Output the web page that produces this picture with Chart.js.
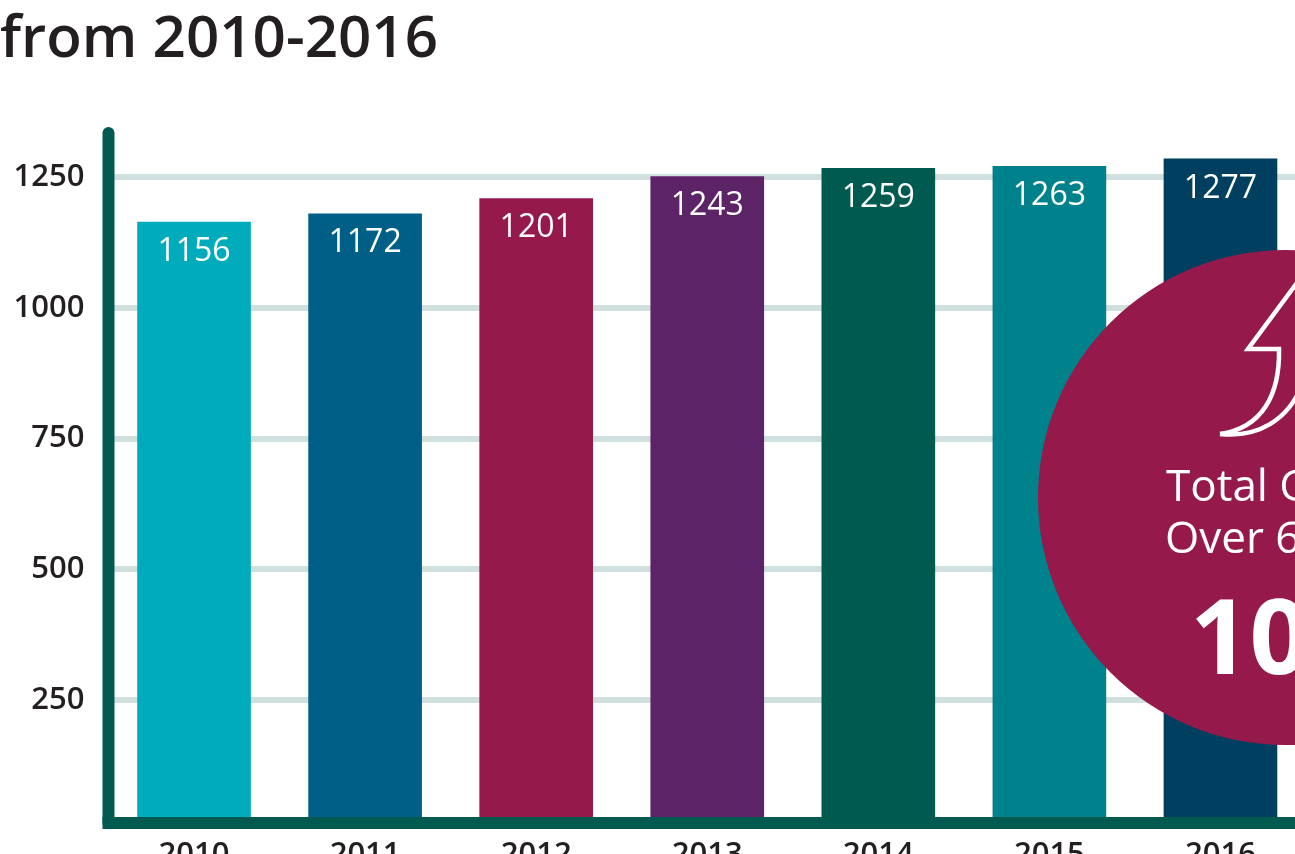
<!DOCTYPE html>
<html lang="en">
<head>
  <meta charset="UTF-8" />
  <title>from 2010-2016</title>
  <script src="https://cdn.jsdelivr.net/npm/chart.js"></script>
  <style>
    html, body { margin: 0; width: 1295px; height: 854px; overflow: hidden; background: #fff; }
    h1 { position: absolute; left: 0; top: -5px; margin: 0; font: 600 58.3px "Open Sans", sans-serif; color: #231f20; white-space: nowrap; }
    canvas { position: absolute; left: 0; top: 0; }
  </style>
</head>
<body>

<h1>from 2010-2016</h1>
<canvas id="growthChart" width="1306" height="900"></canvas>

<script>
  const years = ['2010', '2011', '2012', '2013', '2014', '2015', '2016'];
  const counts = [1156, 1172, 1201, 1243, 1259, 1263, 1277];
  const barColors = ['#00abbb', '#005f86', '#95194b', '#5c2466', '#005a50', '#00828c', '#003f5f'];
  const yTicks = [250, 500, 750, 1000, 1250];
  const calloutLines = ['Total G', 'Over 6'];
  const calloutBig = '10';

  const fontFamily = '"Open Sans", sans-serif';

  // value labels, axis lines and the callout all sit on top of the bars
  const overlay = {
    id: 'overlay',
    afterDatasetsDraw(chart) {
      const { ctx, chartArea } = chart;
      ctx.save();

      ctx.fillStyle = '#fff';
      ctx.font = '400 32px ' + fontFamily;
      ctx.textAlign = 'center';
      ctx.textBaseline = 'middle';
      chart.getDatasetMeta(0).data.forEach((bar, i) => {
        ctx.fillText(counts[i], bar.x, bar.y + 29.5);
      });

      ctx.strokeStyle = '#005a50';
      ctx.lineWidth = 12;
      ctx.lineCap = 'round';
      ctx.beginPath();
      ctx.moveTo(chartArea.left, chartArea.top + 6);
      ctx.lineTo(chartArea.left, chartArea.bottom);
      ctx.stroke();
      ctx.lineCap = 'butt';
      ctx.beginPath();
      ctx.moveTo(chartArea.left - 6, chartArea.bottom);
      ctx.lineTo(chart.width, chartArea.bottom);
      ctx.stroke();

      // callout circle, runs off the right edge of the page
      ctx.fillStyle = '#95194a';
      ctx.beginPath();
      ctx.arc(1285.5, 497.5, 247.5, 0, Math.PI * 2);
      ctx.fill();

      ctx.strokeStyle = '#fff';
      ctx.lineWidth = 4.5;
      ctx.lineJoin = 'miter';
      ctx.beginPath();
      ctx.moveTo(1302, 276);
      ctx.lineTo(1248, 349);
      ctx.lineTo(1279, 349);
      ctx.bezierCurveTo(1280, 395, 1262, 428, 1220, 434);
      ctx.stroke();
      ctx.beginPath();
      ctx.moveTo(1220, 434);
      ctx.bezierCurveTo(1258, 438, 1288, 420, 1302, 385);
      ctx.stroke();

      ctx.fillStyle = '#fff';
      ctx.textAlign = 'left';
      ctx.textBaseline = 'alphabetic';
      ctx.font = '400 44px ' + fontFamily;
      ctx.fillText(calloutLines[0], 1166, 501);
      ctx.fillText(calloutLines[1], 1165, 553);
      ctx.font = '700 104px ' + fontFamily;
      ctx.fillText(calloutBig, 1190, 674);

      ctx.restore();
    }
  };

  new Chart(document.getElementById('growthChart'), {
    type: 'bar',
    data: {
      labels: years,
      datasets: [{
        data: counts,
        backgroundColor: barColors,
        yAxisID: 'yBars',
        barThickness: 113,
        borderWidth: 0
      }]
    },
    options: {
      responsive: false,
      animation: false,
      layout: { padding: { top: 127 } },
      plugins: { legend: { display: false }, tooltip: { enabled: false } },
      scales: {
        x: {
          afterFit: scale => { scale.height = 77; },
          grid: { display: false },
          border: { display: false },
          ticks: { color: '#231f20', font: { family: fontFamily, size: 31, weight: '600' }, padding: 6, maxRotation: 0 }
        },
        // ruled axis
        y: {
          min: 15,
          max: 1346,
          afterBuildTicks: scale => { scale.ticks = yTicks.map(value => ({ value })); },
          afterFit: scale => { scale.width = 108.5; },
          grid: { color: '#d0e0de', lineWidth: 6, drawTicks: false },
          border: { display: false },
          ticks: { color: '#231f20', font: { family: fontFamily, size: 31, weight: '600' }, padding: 24, callback: value => String(value) }
        },
        // the bars sit a few pixels above the ruled scale in the original
        yBars: {
          display: false,
          min: 7,
          max: 1338
        }
      }
    },
    plugins: [overlay]
  });
</script>

</body>
</html>
